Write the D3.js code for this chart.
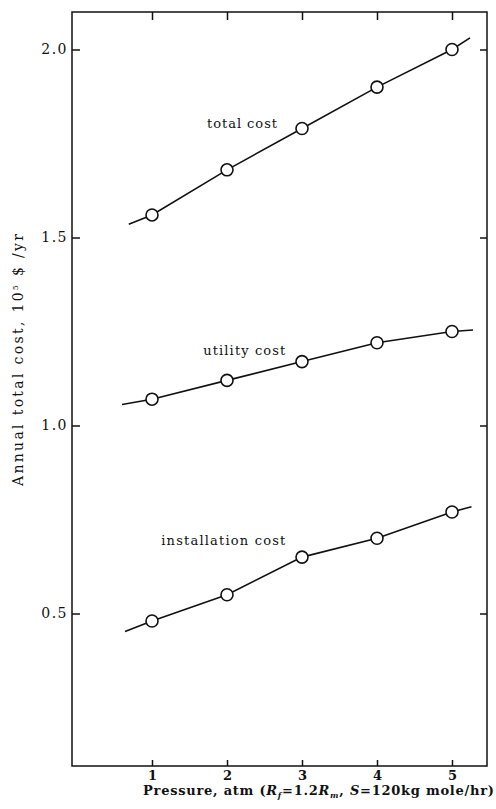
<!DOCTYPE html>
<html>
<head>
<meta charset="utf-8">
<script src="https://cdn.jsdelivr.net/npm/d3@7"></script>
<style>
    body { margin: 0; background: #fff; }
    .axis path { display: none; }
    .axis line { stroke: #111; stroke-width: 1.5; }
</style>
</head>
<body>
<div id="chart"></div>
<script>
const CANVAS_WIDTH = 496;
const CANVAS_HEIGHT = 809;
const MARGIN = { left: 72, top: 12, right: 9, bottom: 43 };
const RADIUS = 6;
const FONT = "'DejaVu Serif', 'Liberation Serif', serif";

// data
const pressure = [1, 2, 3, 4, 5];
const totalCost = [1.56, 1.68, 1.79, 1.90, 2.00];
const utilityCost = [1.07, 1.12, 1.17, 1.22, 1.25];
const installCost = [0.48, 0.55, 0.65, 0.70, 0.77];
const seriesNames = ["total cost", "utility cost", "installation cost"];
// the drawn lines run a little past the first and last points
const lineFrom = [[0.69, 1.535], [0.60, 1.056], [0.64, 0.452]];
const lineTo = [[5.24, 2.031], [5.28, 1.254], [5.26, 0.784]];
const xTicks = [1, 2, 3, 4, 5];
const yTicks = [0.5, 1.0, 1.5, 2.0];

var width = CANVAS_WIDTH - MARGIN.left - MARGIN.right,
    height = CANVAS_HEIGHT - MARGIN.top - MARGIN.bottom;

var svg = d3.select("#chart")
    .append("svg")
    .attr("width", CANVAS_WIDTH)
    .attr("height", CANVAS_HEIGHT);

var g = svg.append("g")
    .attr("transform", "translate(" + MARGIN.left + "," + MARGIN.top + ")");

var x_scale = d3.scaleLinear().domain([1, 5]).range([80, 380]);
var y_scale = d3.scaleLinear().domain([0.5, 2.0]).range([601.5, 37.5]);

// frame
g.append("rect")
    .attr("x", 0).attr("y", 0)
    .attr("width", width).attr("height", height)
    .attr("fill", "none")
    .attr("stroke", "#111")
    .attr("stroke-width", 1.5);

// axes, ticks point inward
g.append("g")
    .attr("class", "axis")
    .call(d3.axisLeft(y_scale).tickValues(yTicks).tickSize(-8).tickPadding(4)
        .tickFormat(d3.format(".1f")))
    .selectAll("text")
    .style("font-family", FONT)
    .style("font-size", "14px")
    .style("letter-spacing", "1.5px")
    .style("fill", "#111");

g.append("g")
    .attr("class", "axis")
    .attr("transform", "translate(" + width + ",0)")
    .call(d3.axisRight(y_scale).tickValues(yTicks).tickSize(-7).tickFormat(""));

g.append("g")
    .attr("class", "axis")
    .attr("transform", "translate(0," + height + ")")
    .call(d3.axisBottom(x_scale).tickValues(xTicks).tickSize(-6).tickPadding(5)
        .tickFormat(d3.format("d")))
    .selectAll("text")
    .style("font-family", FONT)
    .style("font-size", "13px")
    .style("font-weight", "bold")
    .style("fill", "#111");

g.append("g")
    .attr("class", "axis")
    .call(d3.axisTop(x_scale).tickValues(xTicks).tickSize(-8).tickFormat(""));

// series
var series = [totalCost, utilityCost, installCost];
var line = d3.line()
    .x((d) => x_scale(d[0]))
    .y((d) => y_scale(d[1]));

series.forEach(function(vals, i) {
    var pts = [lineFrom[i]].concat(pressure.map((p, j) => [p, vals[j]]), [lineTo[i]]);
    g.append("path")
        .datum(pts)
        .attr("d", line)
        .attr("fill", "none")
        .attr("stroke", "#111")
        .attr("stroke-width", 1.6);

    g.selectAll(".pt-" + i)
        .data(vals)
        .enter()
        .append("circle")
        .attr("class", "pt-" + i)
        .attr("cx", (d, j) => x_scale(pressure[j]))
        .attr("cy", (d) => y_scale(d))
        .attr("r", RADIUS)
        .attr("fill", "#fff")
        .attr("stroke", "#111")
        .attr("stroke-width", 1.6);
});

// series labels, placed in data units
var labelAt = [[2.2, 1.79, 70], [2.23, 1.187, 82], [1.95, 0.683, 124]];
seriesNames.forEach(function(name, i) {
    g.append("text")
        .attr("x", x_scale(labelAt[i][0]) - labelAt[i][2] / 2)
        .attr("y", y_scale(labelAt[i][1]))
        .attr("textLength", labelAt[i][2])
        .attr("lengthAdjust", "spacing")
        .style("font-family", FONT)
        .style("font-size", "13px")
        .style("fill", "#111")
        .text(name);
});

// y axis title
var yTitle = svg.append("text")
    .attr("transform", "translate(23,360) rotate(-90)")
    .attr("x", -126)
    .attr("textLength", 252)
    .attr("lengthAdjust", "spacing")
    .style("font-family", FONT)
    .style("font-size", "14px")
    .style("fill", "#111");
yTitle.append("tspan").text("Annual total cost, 10");
yTitle.append("tspan").attr("dy", -5).style("font-size", "8px").text("5");
yTitle.append("tspan").attr("dy", 5).text(" $ /yr");

// x axis title
var xTitle = svg.append("text")
    .attr("x", 143)
    .attr("y", 795)
    .attr("textLength", 351)
    .attr("lengthAdjust", "spacing")
    .style("font-family", FONT)
    .style("font-size", "13px")
    .style("font-weight", "bold")
    .style("fill", "#111");
xTitle.append("tspan").text("Pressure, atm (");
xTitle.append("tspan").style("font-style", "italic").text("R");
xTitle.append("tspan").attr("dy", 3).style("font-size", "8px").style("font-style", "italic").text("f");
xTitle.append("tspan").attr("dy", -3).text("=1.2");
xTitle.append("tspan").style("font-style", "italic").text("R");
xTitle.append("tspan").attr("dy", 3).style("font-size", "8px").style("font-style", "italic").text("m");
xTitle.append("tspan").attr("dy", -3).text(", ");
xTitle.append("tspan").style("font-style", "italic").text("S");
xTitle.append("tspan").text("=120kg mole/hr)");
</script>
</body>
</html>
